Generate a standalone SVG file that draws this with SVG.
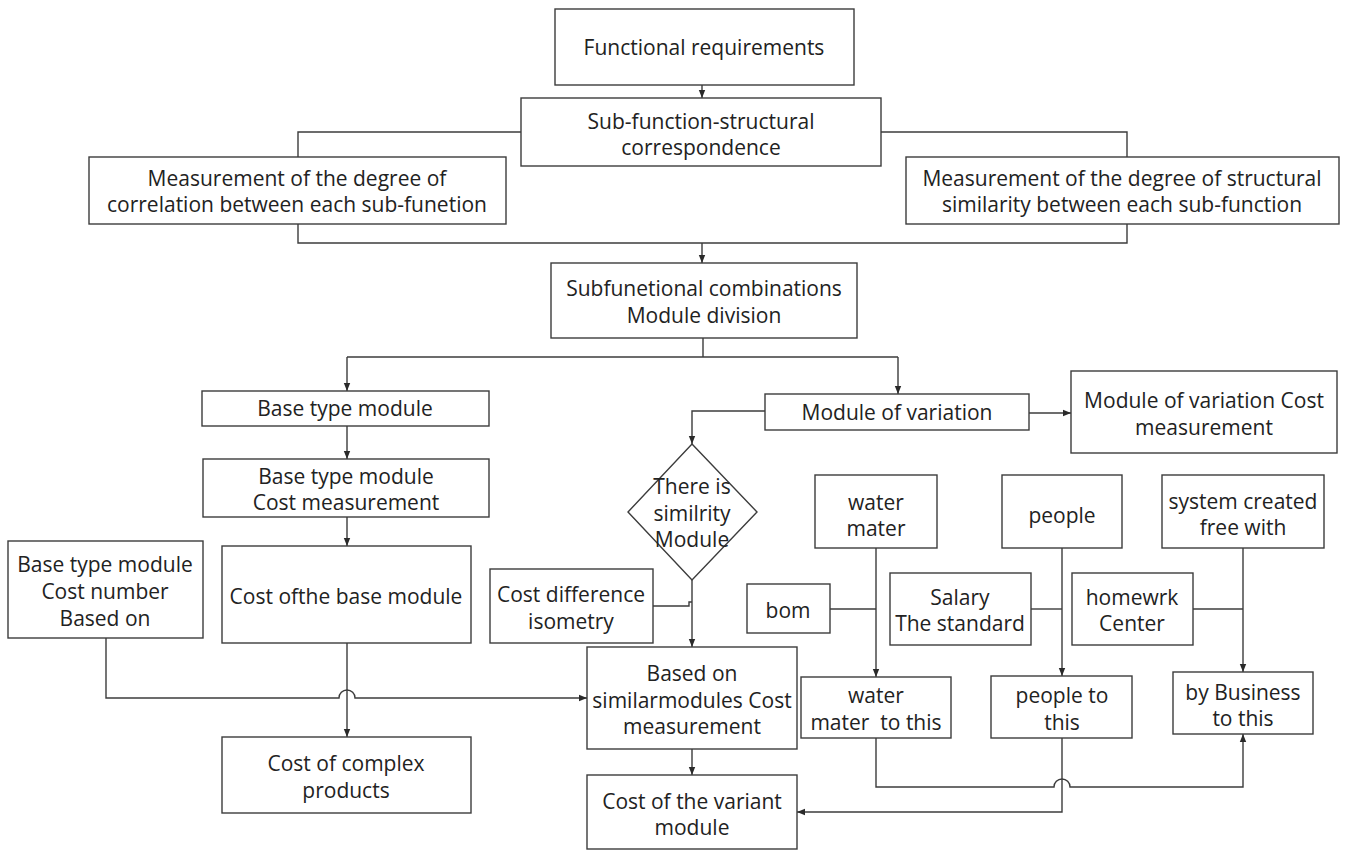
<svg xmlns="http://www.w3.org/2000/svg" width="1349" height="850" viewBox="0 0 1349 850">
<style>
.b{fill:#fff;stroke:#3c3c3c;stroke-width:1.4}
.t{font-family:"Open Sans","Noto Sans",sans-serif;font-size:21px;fill:#222;text-anchor:middle;white-space:pre}
.c{fill:none;stroke:#3c3c3c;stroke-width:1.4}
.a{fill:none;stroke:#3c3c3c;stroke-width:1.4;marker-end:url(#ah)}
</style>
<defs>
<marker id="ah" viewBox="0 0 10 10" refX="10" refY="5" markerWidth="8" markerHeight="8" markerUnits="userSpaceOnUse" orient="auto">
<path d="M0,1 L10,5 L0,9 Z" fill="#2a2a2a"/>
</marker>
</defs>
<rect width="1349" height="850" fill="#fff"/>
<g id="connectors">
<path class="a" d="M702,85 V98"/>
<path class="c" d="M521,132 H298 V157"/>
<path class="c" d="M881,132 H1127 V157"/>
<path class="c" d="M298,224 V243 H1127 V224"/>
<path class="a" d="M702,243 V263"/>
<path class="c" d="M703,338 V357 M347,357 H898"/>
<path class="a" d="M347,357 V391"/>
<path class="a" d="M898,357 V394"/>
<path class="a" d="M347,426 V459"/>
<path class="a" d="M347,517 V546"/>
<path class="a" d="M347,643 V737"/>
<path class="a" d="M106,638 V698 H339 A8,8 0 0 1 355,698 H587"/>
<path class="a" d="M765,411 H692 V444"/>
<path class="a" d="M1029,413 H1071"/>
<path class="a" d="M692,580 V647"/>
<path class="c" d="M653,606 H689 V602 H692"/>
<path class="a" d="M692,749 V775"/>
<path class="c" d="M830,609 H876"/>
<path class="a" d="M876,548 V677"/>
<path class="c" d="M1031,609 H1062"/>
<path class="a" d="M1062,548 V676"/>
<path class="c" d="M1193,609 H1243"/>
<path class="a" d="M1243,548 V672"/>
<path class="a" d="M876,738 V787 H1054 A8,8 0 0 1 1070,787 H1243 V734"/>
<path class="a" d="M1062,738 V812 H797"/>
</g>
<g id="n-func"><rect class="b" x="555" y="9" width="299" height="76"/><text class="t" x="704" y="55">Functional requirements</text></g>
<g id="n-sub"><rect class="b" x="521" y="98" width="360" height="68"/><text class="t" x="701" y="129">Sub-function-structural</text><text class="t" x="701" y="155">correspondence</text></g>
<g id="n-mleft"><rect class="b" x="89" y="157" width="417" height="67"/><text class="t" x="297" y="186">Measurement of the degree of</text><text class="t" x="297" y="212">correlation between each sub-funetion</text></g>
<g id="n-mright"><rect class="b" x="906" y="157" width="433" height="67"/><text class="t" x="1122" y="186">Measurement of the degree of structural</text><text class="t" x="1122" y="212">similarity between each sub-function</text></g>
<g id="n-comb"><rect class="b" x="551" y="263" width="306" height="75"/><text class="t" x="704" y="296">Subfunetional combinations</text><text class="t" x="704" y="323">Module division</text></g>
<g id="n-base"><rect class="b" x="202" y="391" width="287" height="35"/><text class="t" x="345" y="416">Base type module</text></g>
<g id="n-basecost"><rect class="b" x="203" y="459" width="286" height="58"/><text class="t" x="346" y="484">Base type module</text><text class="t" x="346" y="510">Cost measurement</text></g>
<g id="n-costbase"><rect class="b" x="222" y="546" width="249" height="97"/><text class="t" x="346" y="604">Cost ofthe base module</text></g>
<g id="n-basenum"><rect class="b" x="8" y="541" width="195" height="97"/><text class="t" x="105" y="572">Base type module</text><text class="t" x="105" y="599">Cost number</text><text class="t" x="105" y="626">Based on</text></g>
<g id="n-complex"><rect class="b" x="222" y="737" width="249" height="76"/><text class="t" x="346" y="771">Cost of complex</text><text class="t" x="346" y="798">products</text></g>
<g id="n-var"><rect class="b" x="765" y="394" width="264" height="36"/><text class="t" x="897" y="420">Module of variation</text></g>
<g id="n-varcost"><rect class="b" x="1071" y="371" width="266" height="82"/><text class="t" x="1204" y="408">Module of variation Cost</text><text class="t" x="1204" y="435">measurement</text></g>
<g id="n-diamond"><path class="b" d="M692,444 L757,512 L692,580 L628,512 Z"/><text class="t" x="692" y="494">There is</text><text class="t" x="692" y="521">similrity</text><text class="t" x="692" y="547">Module</text></g>
<g id="n-costdiff"><rect class="b" x="490" y="569" width="163" height="74"/><text class="t" x="571" y="602">Cost difference</text><text class="t" x="571" y="629">isometry</text></g>
<g id="n-basedsim"><rect class="b" x="587" y="647" width="210" height="102"/><text class="t" x="692" y="681">Based on</text><text class="t" x="692" y="708">similarmodules Cost</text><text class="t" x="692" y="734">measurement</text></g>
<g id="n-variant"><rect class="b" x="587" y="775" width="210" height="74"/><text class="t" x="692" y="809">Cost of the variant</text><text class="t" x="692" y="835">module</text></g>
<g id="n-water"><rect class="b" x="815" y="475" width="122" height="73"/><text class="t" x="876" y="510">water</text><text class="t" x="876" y="536">mater</text></g>
<g id="n-people"><rect class="b" x="1002" y="475" width="120" height="73"/><text class="t" x="1062" y="523">people</text></g>
<g id="n-system"><rect class="b" x="1162" y="475" width="162" height="73"/><text class="t" x="1243" y="509">system created</text><text class="t" x="1243" y="535">free with</text></g>
<g id="n-bom"><rect class="b" x="747" y="584" width="83" height="49"/><text class="t" x="788" y="618">bom</text></g>
<g id="n-salary"><rect class="b" x="890" y="573" width="141" height="72"/><text class="t" x="960" y="605">Salary</text><text class="t" x="960" y="631">The standard</text></g>
<g id="n-homewrk"><rect class="b" x="1072" y="573" width="121" height="72"/><text class="t" x="1132" y="605">homewrk</text><text class="t" x="1132" y="631">Center</text></g>
<g id="n-waterto"><rect class="b" x="801" y="677" width="150" height="61"/><text class="t" x="876" y="703">water</text><text class="t" x="876" y="730">mater  to this</text></g>
<g id="n-peopleto"><rect class="b" x="991" y="676" width="141" height="62"/><text class="t" x="1062" y="703">people to</text><text class="t" x="1062" y="730">this</text></g>
<g id="n-business"><rect class="b" x="1173" y="672" width="140" height="62"/><text class="t" x="1243" y="700">by Business</text><text class="t" x="1243" y="726">to this</text></g>
</svg>
